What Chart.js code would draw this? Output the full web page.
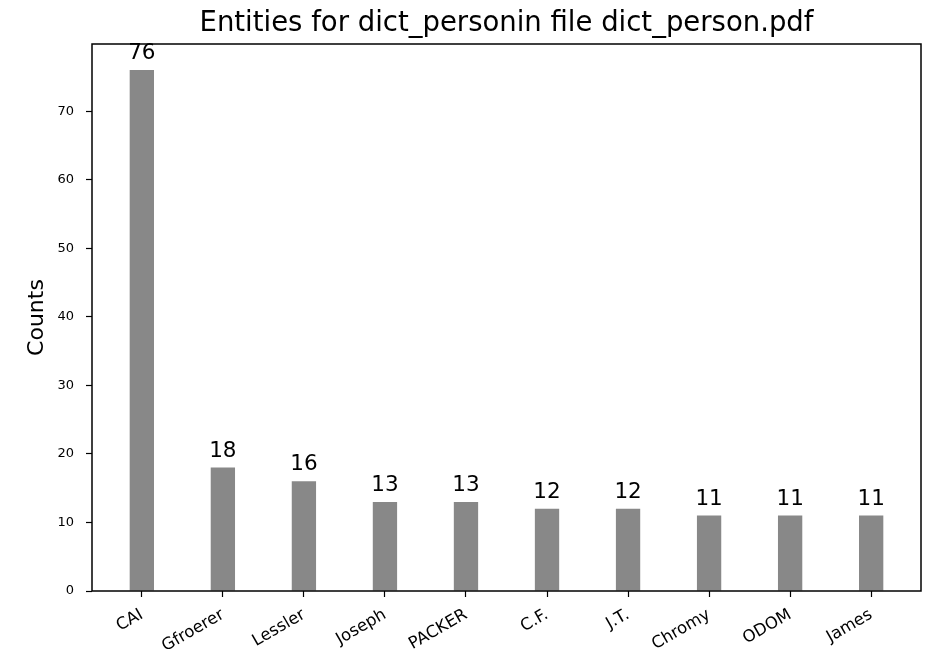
<!DOCTYPE html>
<html>
<head>
<meta charset="utf-8">
<script src="https://cdn.jsdelivr.net/npm/chart.js@4"></script>
<style>
  html, body { margin: 0; padding: 0; background: #fff; }
  #chart { display: block; }
</style>
</head>
<body>
<canvas id="chart" width="937" height="649"></canvas>
<script>
const names = ['CAI', 'Gfroerer', 'Lessler', 'Joseph', 'PACKER', 'C.F.', 'J.T.', 'Chromy', 'ODOM', 'James'];
const counts = [76, 18, 16, 13, 13, 12, 12, 11, 11, 11];
const yTicks = [0, 10, 20, 30, 40, 50, 60, 70];
const titleText = 'Entities for dict_personin file dict_person.pdf';

const FONT = "'DejaVu Sans', sans-serif";

// box round the plot area, like matplotlib's spines
const frame = {
	id: 'frame',
	afterDraw(chart) {
		const a = chart.chartArea;
		const c = chart.ctx;
		c.save();
		c.strokeStyle = '#000';
		c.lineWidth = 1.5;
		c.strokeRect(a.left, a.top, a.right - a.left, a.bottom - a.top);
		c.restore();
	}
};

// title centred over the plot area (chart.js centres over the whole canvas)
const axesTitle = {
	id: 'axesTitle',
	afterDraw(chart) {
		const a = chart.chartArea;
		const c = chart.ctx;
		c.save();
		c.font = '27.5px ' + FONT;
		c.fillStyle = '#000';
		c.textAlign = 'center';
		c.textBaseline = 'alphabetic';
		c.fillText(titleText, (a.left + a.right) / 2, 31);
		c.restore();
	}
};

// count written above each bar
const barLabels = {
	id: 'barLabels',
	afterDraw(chart) {
		const c = chart.ctx;
		const meta = chart.getDatasetMeta(0);
		c.save();
		c.font = '21.5px ' + FONT;
		c.fillStyle = '#000';
		c.textAlign = 'center';
		c.textBaseline = 'alphabetic';
		meta.data.forEach(function (bar, i) {
			c.fillText(String(counts[i]), bar.x, bar.y - 11);
		});
		c.restore();
	}
};

document.addEventListener("DOMContentLoaded", function () {
	const ctx = document.querySelector("#chart").getContext("2d");

	new Chart(ctx, {
		type: 'bar',
		data: {
			datasets: [{
				data: counts.map(function (v, i) { return { x: i, y: v }; }),
				backgroundColor: '#888888',
				borderWidth: 0,
				barPercentage: 0.3,
				categoryPercentage: 1.0
			}]
		},
		options: {
			responsive: false,
			animation: false,
			layout: { padding: { left: 0, right: 16, top: 44, bottom: 0 } },
			plugins: {
				legend: { display: false },
				tooltip: { enabled: false },
				title: { display: false }
			},
			scales: {
				x: {
					type: 'linear',
					offset: false,
					min: -0.615,
					max: 9.615,
					afterBuildTicks(axis) {
						axis.ticks = names.map(function (n, i) { return { value: i }; });
					},
					afterFit(axis) { axis.height = 58; },
					ticks: {
						callback: function (v) { return names[v]; },
						color: '#000',
						font: { family: FONT, size: 16.5 },
						minRotation: 30,
						maxRotation: 30,
						autoSkip: false,
						padding: 8
					},
					grid: {
						offset: false,
						drawOnChartArea: false,
						drawTicks: true,
						tickLength: 6,
						tickColor: '#000',
						tickWidth: 1.2
					},
					border: { display: false }
				},
				y: {
					min: 0,
					max: 79.8,
					afterBuildTicks(axis) {
						axis.ticks = yTicks.map(function (v) { return { value: v }; });
					},
					afterFit(axis) { axis.width = 92; },
					ticks: {
						color: '#000',
						font: { family: FONT, size: 13 },
						padding: 12
					},
					grid: {
						drawOnChartArea: false,
						drawTicks: true,
						tickLength: 6,
						tickColor: '#000',
						tickWidth: 1.2
					},
					border: { display: false },
					title: {
						display: true,
						text: 'Counts',
						color: '#000',
						font: { family: FONT, size: 22 },
						padding: { top: 24, bottom: 0 }
					}
				}
			}
		},
		plugins: [frame, axesTitle, barLabels]
	});
});
</script>
</body>
</html>
